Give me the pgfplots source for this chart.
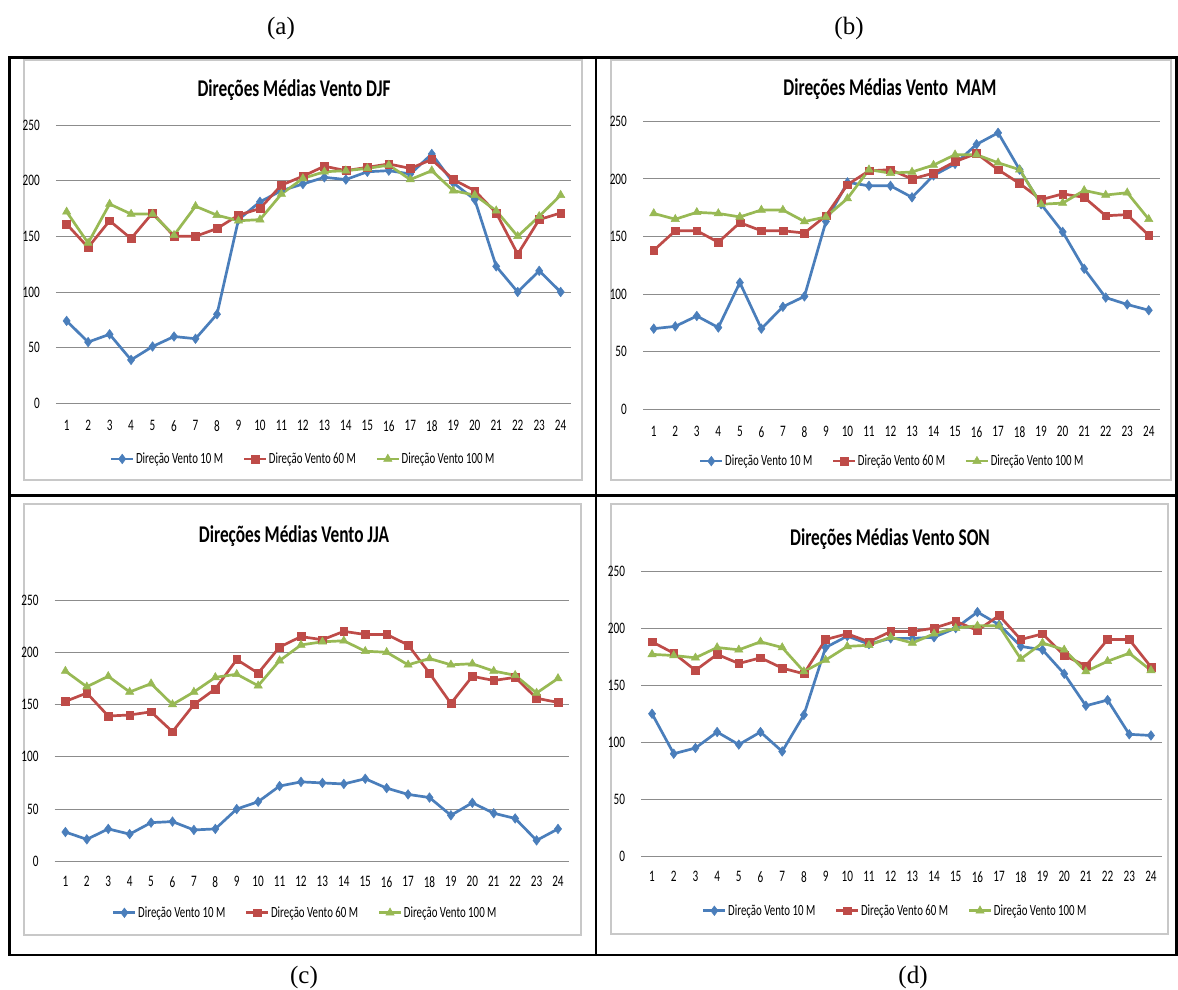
\documentclass[border=0pt]{standalone}
\usepackage{fontspec}
\usepackage{pgfplots}
\usepackage{pgfplotstable}
\pgfplotsset{compat=1.18}
\newfontfamily\cf[FakeStretch=0.72]{Carlito}
\newfontfamily\cfn[FakeStretch=0.7]{Carlito}
\newfontfamily\tf{Liberation Serif}
\definecolor{c10}{HTML}{4A7EBB}
\definecolor{c60}{HTML}{BE4B48}
\definecolor{c100}{HTML}{98B954}
\definecolor{gridgray}{HTML}{8C8C8C}
\definecolor{boxgray}{HTML}{C8C8C8}

\pgfplotstableread{
h w10 w60 w100
1 74 161 172
2 55 140 144
3 62 164 179
4 39 148 170
5 51 171 170
6 60 150 151
7 58 150 177
8 80 157 169
9 165 169 164
10 181 175 165
11 191 196 188
12 197 204 202
13 203 213 208
14 201 209 209
15 208 212 211
16 209 215 214
17 206 211 201
18 224 219 209
19 198 201 191
20 183 191 187
21 123 171 173
22 100 134 150
23 119 165 168
24 100 171 187
}\dataA
\pgfplotstableread{
h w10 w60 w100
1 70 138 170
2 72 155 165
3 81 155 171
4 71 145 170
5 110 162 167
6 70 155 173
7 89 155 173
8 98 153 163
9 163 168 167
10 197 195 183
11 194 207 208
12 194 208 205
13 184 200 206
14 203 205 212
15 213 215 221
16 230 222 221
17 240 208 214
18 208 196 208
19 178 182 178
20 154 187 179
21 122 184 190
22 97 168 186
23 91 169 188
24 86 151 165
}\dataB
\pgfplotstableread{
h w10 w60 w100
1 28 153 182
2 21 161 167
3 31 139 177
4 26 140 162
5 37 143 170
6 38 124 150
7 30 150 162
8 31 165 176
9 50 193 179
10 57 180 168
11 72 205 192
12 76 215 207
13 75 212 210
14 74 220 211
15 79 217 201
16 70 217 200
17 64 207 188
18 61 180 194
19 44 151 188
20 56 177 189
21 46 173 182
22 41 176 178
23 20 156 161
24 31 152 175
}\dataC
\pgfplotstableread{
h w10 w60 w100
1 125 188 177
2 90 178 176
3 95 163 174
4 109 177 183
5 98 169 181
6 109 174 188
7 92 165 183
8 124 160 162
9 183 190 172
10 193 195 184
11 186 188 185
12 191 197 192
13 191 197 187
14 192 200 195
15 200 206 200
16 214 198 202
17 203 211 202
18 184 190 173
19 181 195 187
20 160 176 181
21 132 167 162
22 137 190 171
23 107 190 178
24 106 166 163
}\dataD

\pgfplotsset{
  chart/.style={
    scale only axis, clip=false,
    xmin=0.5, xmax=24.5, ymin=0, ymax=250,
    xtick={1,...,24}, ytick={0,50,...,250},
    ymajorgrids, major grid style={draw=gridgray, line width=0.9pt},
    axis line style={draw=none}, major tick length=0pt,
    /pgf/number format/assume math mode=true,
    tick label style={font=\cfn\fontsize{16}{16}\selectfont, inner sep=0pt},
    yticklabel style={anchor=east, xshift=-16pt},
    legend columns=3,
    legend style={draw=none, fill=none, anchor=center,
      font=\cfn\fontsize{15.5}{15.5}\selectfont,
      nodes={inner sep=1.5pt},
      /tikz/every even column/.append style={column sep=18pt}},
    legend image code/.code={\draw[mark repeat=2,mark phase=2] plot coordinates {(0pt,0pt) (11pt,0pt) (22pt,0pt)};},
  },
  s10/.style={c10, line width=2.7pt, mark=diamond*, mark size=4.8pt, mark options={fill=c10, line width=0.5pt}},
  s60/.style={c60, line width=2.7pt, mark=square*, mark size=3.9pt, mark options={fill=c60, line width=0.5pt}},
  s100/.style={c100, line width=2.7pt, mark=triangle*, mark size=4.8pt, mark options={fill=c100, line width=0.5pt}},
}

\begin{document}
\begin{tikzpicture}
\useasboundingbox (0pt,0pt) rectangle (1178pt,-990pt);
\fill[white] (0pt,0pt) rectangle (1178pt,-990pt);

% inner chart borders
\draw[boxgray, line width=1.3pt] (24pt,-60pt) rectangle (582pt,-480pt);
\draw[boxgray, line width=1.3pt] (611pt,-60pt) rectangle (1171pt,-480pt);
\draw[boxgray, line width=1.3pt] (24pt,-504pt) rectangle (581pt,-935pt);
\draw[boxgray, line width=1.3pt] (611pt,-504pt) rectangle (1168pt,-934pt);

% titles
\node[font=\cf\bfseries\fontsize{24}{24}\selectfont] at (294pt,-90pt) {Direções Médias Vento DJF};
\node[font=\cf\bfseries\fontsize{24}{24}\selectfont] at (890pt,-89pt) {Direções Médias Vento \ MAM};
\node[font=\cf\bfseries\fontsize{24}{24}\selectfont] at (294pt,-536pt) {Direções Médias Vento JJA};
\node[font=\cf\bfseries\fontsize{24}{24}\selectfont] at (890pt,-539pt) {Direções Médias Vento SON};

% panel labels
\node[font=\tf\fontsize{25}{25}\selectfont] at (281pt,-28pt) {(a)};
\node[font=\tf\fontsize{25}{25}\selectfont] at (849pt,-28pt) {(b)};
\node[font=\tf\fontsize{25}{25}\selectfont] at (304pt,-977pt) {(c)};
\node[font=\tf\fontsize{25}{25}\selectfont] at (913pt,-977pt) {(d)};

% (a)
\begin{axis}[chart, at={(55.9pt,-403.3pt)}, anchor=south west, width=515.5pt, height=278.3pt,
  xticklabel style={anchor=center, yshift=-22.4pt},
  legend style={at={(0.479,-0.2)}}]
\addplot[s10] table[x=h,y=w10] {\dataA};
\addplot[s60] table[x=h,y=w60] {\dataA};
\addplot[s100] table[x=h,y=w100] {\dataA};
\legend{Direção Vento 10 M, Direção Vento 60 M, Direção Vento 100 M}
\end{axis}

% (b)
\begin{axis}[chart, at={(643pt,-409.3pt)}, anchor=south west, width=516.5pt, height=288pt,
  xticklabel style={anchor=center, yshift=-22.4pt},
  legend style={at={(0.482,-0.18)}}]
\addplot[s10] table[x=h,y=w10] {\dataB};
\addplot[s60] table[x=h,y=w60] {\dataB};
\addplot[s100] table[x=h,y=w100] {\dataB};
\legend{Direção Vento 10 M, Direção Vento 60 M, Direção Vento 100 M}
\end{axis}

% (c)
\begin{axis}[chart, at={(54.7pt,-861.3pt)}, anchor=south west, width=514pt, height=261.3pt,
  xticklabel style={anchor=center, yshift=-20.4pt},
  legend style={at={(0.487,-0.197)}}]
\addplot[s10] table[x=h,y=w10] {\dataC};
\addplot[s60] table[x=h,y=w60] {\dataC};
\addplot[s100] table[x=h,y=w100] {\dataC};
\legend{Direção Vento 10 M, Direção Vento 60 M, Direção Vento 100 M}
\end{axis}

% (d)
\begin{axis}[chart, at={(641.2pt,-856.5pt)}, anchor=south west, width=520.6pt, height=285.5pt,
  xticklabel style={anchor=center, yshift=-20.2pt},
  legend style={at={(0.4875,-0.19)}}]
\addplot[s10] table[x=h,y=w10] {\dataD};
\addplot[s60] table[x=h,y=w60] {\dataD};
\addplot[s100] table[x=h,y=w100] {\dataD};
\legend{Direção Vento 10 M, Direção Vento 60 M, Direção Vento 100 M}
\end{axis}

% black frame
\draw[line width=2.7pt] (9.5pt,-57.3pt) rectangle (1176.5pt,-955pt);
\draw[line width=2pt] (596pt,-57.3pt) -- (596pt,-955pt);
\draw[line width=3pt] (9.5pt,-495.5pt) -- (1176.5pt,-495.5pt);
\end{tikzpicture}
\end{document}
